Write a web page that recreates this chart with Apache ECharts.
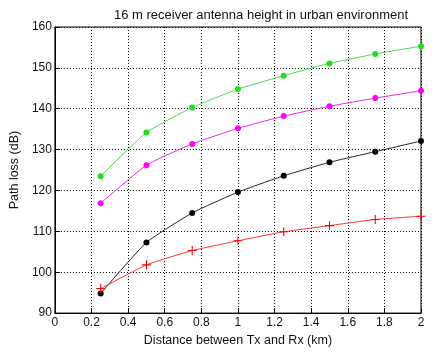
<!DOCTYPE html>
<html>
<head>
<meta charset="utf-8">
<script src="https://cdn.jsdelivr.net/npm/echarts@6/dist/echarts.min.js"></script>
<style>
  html, body { margin: 0; padding: 0; background: #fff; }
  #chart { width: 442px; height: 352px; }
</style>
</head>
<body>
<div id="chart"></div>
<script>
const distanceKm = [0.25, 0.5, 0.75, 1, 1.25, 1.5, 1.75, 2]
const lossGreen = [123.5, 134.2, 140.3, 144.8, 148.1, 151.1, 153.4, 155.3]
const lossMagenta = [116.9, 126.2, 131.4, 135.2, 138.2, 140.6, 142.6, 144.4]
const lossBlack = [94.8, 107.3, 114.5, 119.6, 123.6, 126.9, 129.5, 132.1]
const lossRed = [96.0, 101.8, 105.3, 107.7, 109.9, 111.4, 112.9, 113.7]

const font = 'Liberation Sans'
const plus = 'path://M4.4,0h1.2v4.4h4.4v1.2h-4.4v4.4h-1.2v-4.4h-4.4v-1.2h4.4z'

const pairs = (ys) => distanceKm.map((x, i) => [x, ys[i]])

const curve = (name, ys, lineColor, markColor, symbol, size) => ({
    name: name,
    type: 'line',
    data: pairs(ys),
    smooth: 0.15,
    symbol: symbol,
    symbolSize: size,
    showSymbol: true,
    lineStyle: { color: lineColor, width: 1 },
    itemStyle: { color: markColor, borderWidth: 0 },
    emphasis: { disabled: true }
})

const chart = echarts.init(document.getElementById('chart'))
chart.setOption({
    animation: false,
    title: {
        text: '16 m receiver antenna height in urban environment',
        left: 256,
        textAlign: 'center',
        top: 4,
        textStyle: { fontFamily: font, fontSize: 13, fontWeight: 'normal', color: '#111' }
    },
    grid: {
        left: 46, right: 21, top: 27, bottom: 30,
        show: true, borderColor: '#000', borderWidth: 1
    },
    xAxis: {
        type: 'value',
        min: 0, max: 2, interval: 0.2,
        name: 'Distance between Tx and Rx (km)',
        nameLocation: 'middle',
        nameGap: 20,
        nameTextStyle: { fontFamily: font, fontSize: 12.5, color: '#111' },
        axisLine: { show: true, lineStyle: { color: '#000' } },
        axisTick: { show: true, inside: true, length: 5, lineStyle: { color: '#000' } },
        axisLabel: {
            fontFamily: font, fontSize: 12, color: '#111', margin: 4,
            formatter: (v) => String(Math.round(v * 10) / 10)
        },
        splitLine: { show: true, lineStyle: { color: '#000', type: [1, 2], width: 1 } }
    },
    yAxis: {
        type: 'value',
        min: 90, max: 160, interval: 10,
        name: 'Path loss (dB)',
        nameLocation: 'middle',
        nameGap: 31,
        nameTextStyle: { fontFamily: font, fontSize: 12.5, color: '#111' },
        axisLine: { show: true, lineStyle: { color: '#000' } },
        axisTick: { show: true, inside: true, length: 5, lineStyle: { color: '#000' } },
        axisLabel: { fontFamily: font, fontSize: 12, color: '#111', margin: 3 },
        splitLine: { show: true, lineStyle: { color: '#000', type: [1, 2], width: 1 } }
    },
    series: [
        curve('green', lossGreen, '#44dd44', '#22dd22', 'circle', 6),
        curve('magenta', lossMagenta, '#ee22ee', '#ff00ff', 'circle', 6),
        curve('black', lossBlack, '#222', '#000', 'circle', 6),
        curve('red', lossRed, '#ff3333', '#ff0000', plus, 9)
    ]
})
</script>
</body>
</html>
